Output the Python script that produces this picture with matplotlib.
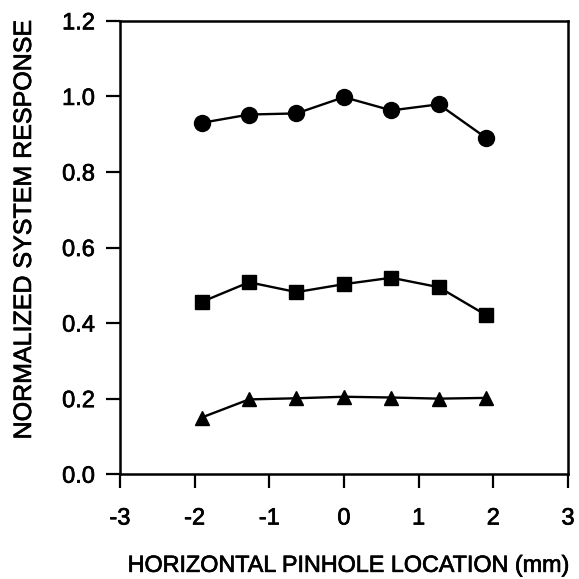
import matplotlib
matplotlib.use("Agg")
import matplotlib.pyplot as plt
import matplotlib.patheffects as pe

plt.rcParams['font.family'] = ['Liberation Sans', 'DejaVu Sans']

x = [-1.905, -1.27, -0.635, 0.0, 0.635, 1.27, 1.905]
circles = [0.930, 0.952, 0.955, 0.998, 0.963, 0.979, 0.890]
squares = [0.456, 0.508, 0.482, 0.503, 0.520, 0.495, 0.421]
triangles = [0.150, 0.198, 0.201, 0.205, 0.203, 0.200, 0.202]

xticks = [-3, -2, -1, 0, 1, 2, 3]
yticks = [0.0, 0.2, 0.4, 0.6, 0.8, 1.0, 1.2]

fig = plt.figure(figsize=(5.79, 5.79), dpi=100)
ax = fig.add_axes([0.207, 0.181, 0.774, 0.783])

ax.plot(x, circles, 'k-', marker='o', markersize=11.5, linewidth=1.7)
ax.plot(x, squares, 'k-', marker='s', markersize=10, linewidth=1.7)
ax.plot(x, triangles, 'k-', marker='^', markersize=10.5, linewidth=1.7)

ax.set_xlim(-3, 3)
ax.set_ylim(0, 1.2)
ax.set_xticks(xticks)
ax.set_xticklabels([str(t) for t in xticks])
ax.set_yticks(yticks)
ax.set_yticklabels([f"{t:.1f}" for t in yticks])
ax.tick_params(direction='out', length=10, width=1.6, labelsize=17)
ax.tick_params(axis='y', pad=8)
ax.tick_params(axis='x', pad=14)
for s in ax.spines.values():
    s.set_linewidth(1.8)

stroke = [pe.withStroke(linewidth=0.5, foreground='black')]
for lbl in ax.get_xticklabels() + ax.get_yticklabels():
    lbl.set_path_effects(stroke)

ax.set_xlabel('HORIZONTAL PINHOLE LOCATION (mm)', fontsize=16.8, va='center',
              path_effects=stroke)
ax.set_ylabel('NORMALIZED SYSTEM RESPONSE', fontsize=18, va='center',
              path_effects=stroke)
ax.xaxis.set_label_coords(0.51, -0.201)
ax.yaxis.set_label_coords(-0.214, 0.539)

fig.savefig('out.png', dpi=100)
